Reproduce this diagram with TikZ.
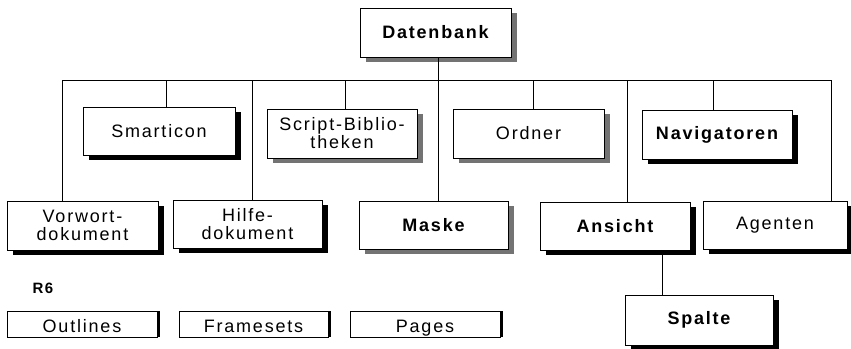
\documentclass[tikz,border=0pt]{standalone}
\usepackage{fontspec}
\setmainfont{Liberation Sans}[LetterSpace=10]
\usetikzlibrary{shadows}
\tikzset{
  box/.style={draw, fill=white, line width=1pt, minimum height=48pt, minimum width=150pt,
    inner sep=0pt, align=center, font=\fontsize{18}{18}\selectfont,
    general shadow={fill=black, shadow xshift=6pt, shadow yshift=-5pt}},
  greybox/.style={box, general shadow={fill=black!55, shadow xshift=6pt, shadow yshift=-5pt}},
  flatbox/.style={draw, fill=white, line width=1pt, minimum height=26pt, minimum width=150pt,
    inner sep=0pt, text height=17pt, text depth=0pt, font=\fontsize{18}{18}\selectfont,
    general shadow={fill=black, shadow xshift=3pt, shadow yshift=0pt}},
  bold/.style={font=\bfseries\fontsize{18}{18}\selectfont},
  conn/.style={line width=1pt}
}
\begin{document}
\begin{tikzpicture}[x=1pt,y=-1pt]
\useasboundingbox (0,0) rectangle (851,348);
% nodes
\node[greybox,bold,minimum width=151pt,minimum height=49pt] (db) at (435.5,32.5) {Datenbank};
\node[box,minimum width=152pt] (smart) at (159,131) {Smarticon};
\node[greybox,minimum height=49pt] (script) at (342,133.5) {Script-Biblio-\\theken};
\node[greybox,minimum width=151pt,minimum height=49pt] (ord) at (528.5,133.5) {Ordner};
\node[box,bold,minimum height=49pt] (nav) at (717,134.5) {Navigatoren};
\node[box,minimum width=151pt,minimum height=49pt] (vor) at (82.5,225.5) {Vorwort-\\dokument};
\node[box,minimum width=149pt] (hilfe) at (247.5,224) {Hilfe-\\dokument};
\node[greybox,bold,minimum width=149pt] (maske) at (433.5,225) {Maske};
\node[box,bold] (ans) at (615,226) {Ansicht};
\node[box,minimum width=144pt] (ag) at (775,225) {Agenten};
\node[box,bold,minimum width=148pt,minimum height=50pt] (sp) at (699,320) {Spalte};
\node[font=\bfseries\fontsize{15}{16}\selectfont] (r6) at (43,288) {R6};
\node[flatbox] (out) at (82,324) {Outlines};
\node[flatbox,minimum width=149pt] (frame) at (253.5,324) {Framesets};
\node[flatbox] (pages) at (425,324) {Pages};
% connectors
\coordinate (bl) at (62,80);
\coordinate (br) at (831,80);
\coordinate (c1) at (166,80);
\coordinate (c2) at (252,80);
\coordinate (c3) at (345,80);
\coordinate (c4) at (438,80);
\coordinate (c5) at (533,80);
\coordinate (c6) at (627,80);
\coordinate (c7) at (713,80);
\coordinate (cs) at (662,0);
\draw[conn] (bl) -- (br);
\draw[conn] (db.south -| c4) -- (c4);
\draw[conn] (bl) -- (bl |- vor.north);
\draw[conn] (c1) -- (c1 |- smart.north);
\draw[conn] (c2) -- (c2 |- hilfe.north);
\draw[conn] (c3) -- (c3 |- script.north);
\draw[conn] (c4) -- (c4 |- maske.north);
\draw[conn] (c5) -- (c5 |- ord.north);
\draw[conn] (c6) -- (c6 |- ans.north);
\draw[conn] (c7) -- (c7 |- nav.north);
\draw[conn] (br) -- (br |- ag.north);
\draw[conn] (cs |- ans.south) -- (cs |- sp.north);
\end{tikzpicture}
\end{document}
